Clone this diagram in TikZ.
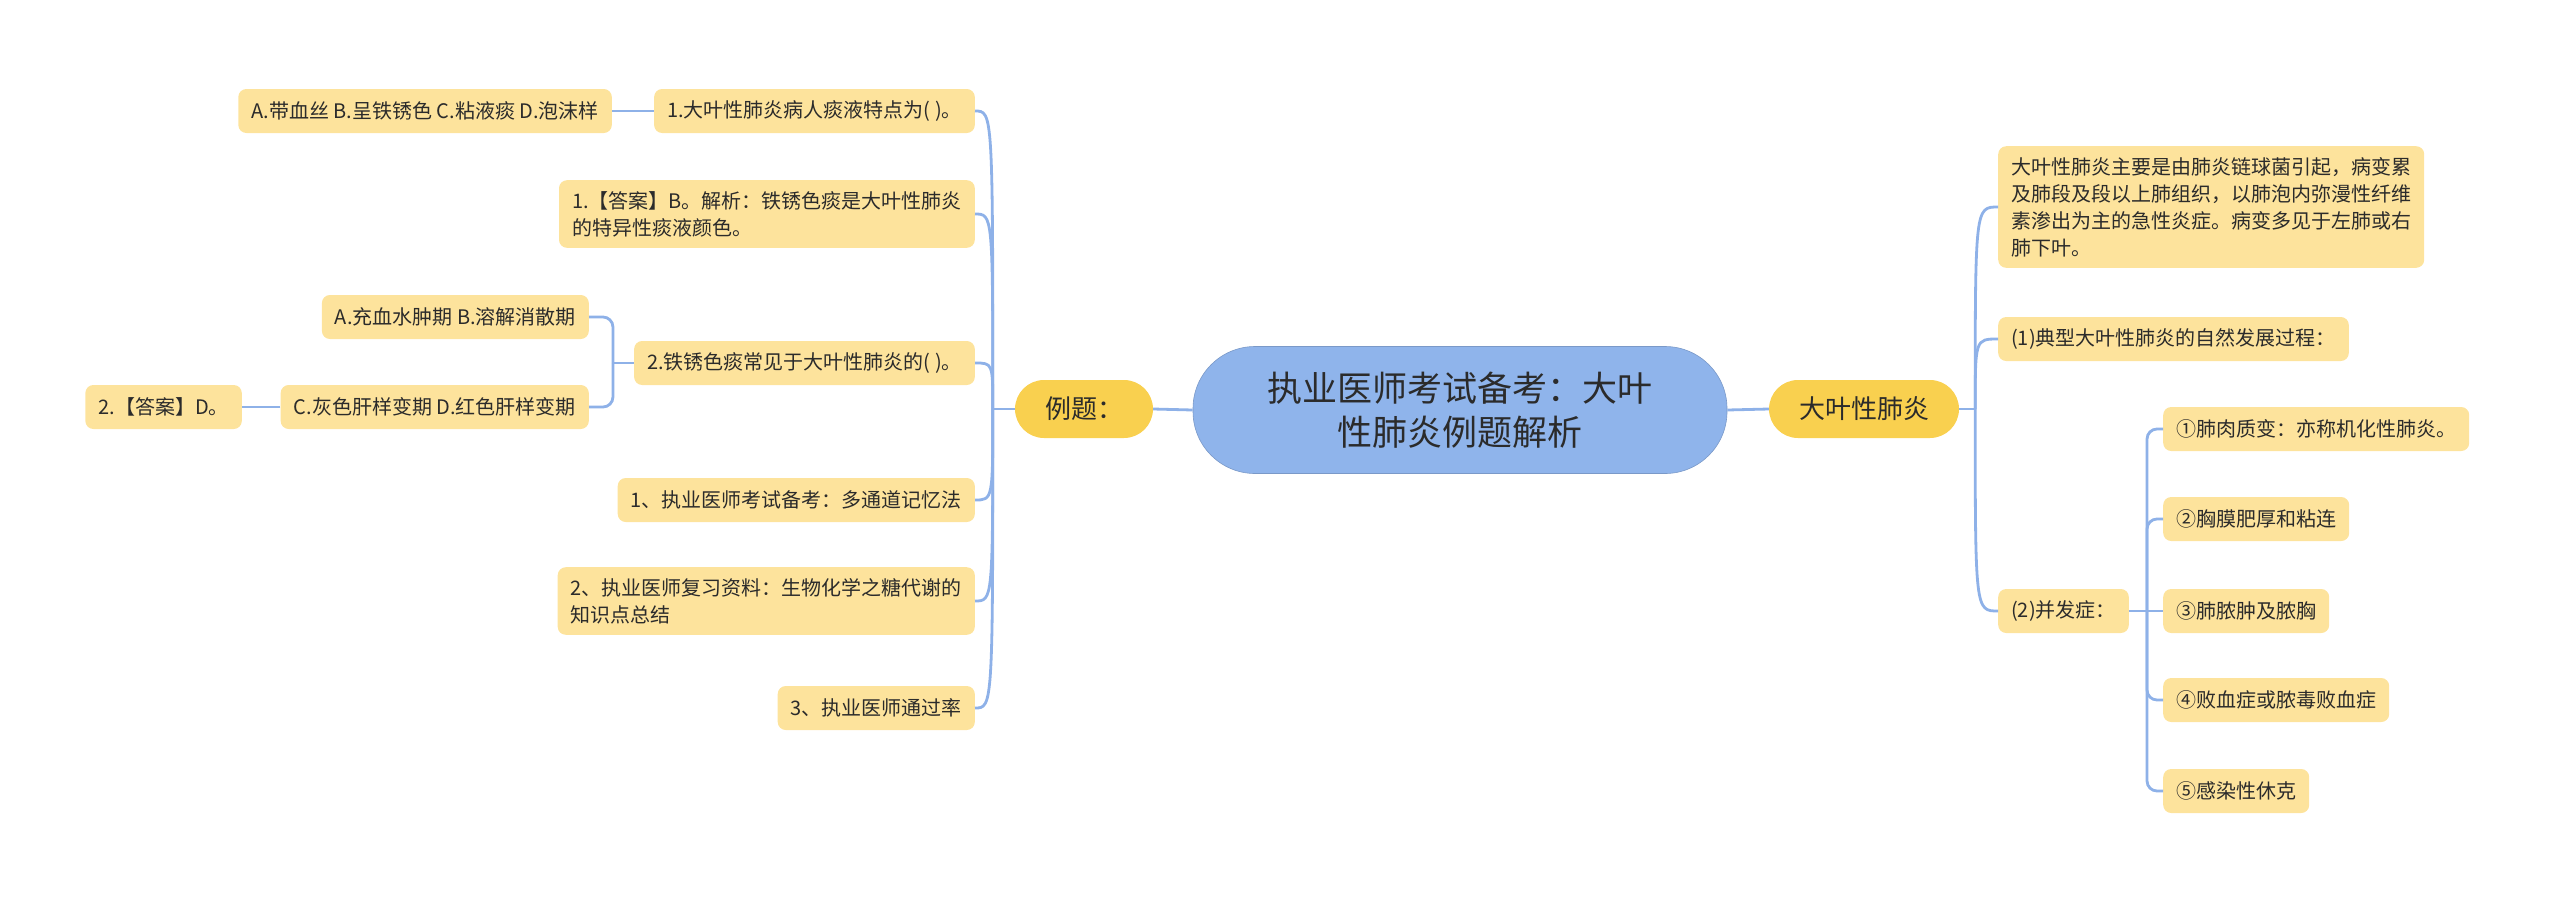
\documentclass[tikz,border=0pt]{standalone}
\usepackage{fontspec}
\setmainfont{Noto Sans CJK SC}
\usetikzlibrary{calc}
\definecolor{lineblue}{HTML}{8EB1E8}
\definecolor{boxy}{HTML}{FDE39C}
\definecolor{lvlone}{HTML}{F9D04F}
\definecolor{rootc}{HTML}{8FB4EB}
\definecolor{txt}{HTML}{2B2B2B}
\begin{document}
\begin{tikzpicture}[x=1pt,y=-1pt,
  leaf/.style={fill=boxy, rounded corners=8pt, inner xsep=13pt, inner ysep=11pt,
    minimum height=44pt, text=txt, font=\fontsize{20}{27}\selectfont, align=left},
  topic/.style={fill=lvlone, rounded corners=29pt, inner xsep=30pt, inner ysep=0pt,
    minimum height=58pt, text=txt, font=\fontsize{26}{32}\selectfont},
  rootnode/.style={fill=rootc, draw=rootc!85!black, line width=0.6pt, rounded corners=62pt,
    minimum width=534pt, minimum height=127pt, text=txt, align=center,
    font=\fontsize{35}{44}\selectfont},
  conn/.style={draw=lineblue, line width=2.8pt},
  brk/.style={conn, rounded corners=10pt}
]
\useasboundingbox (0,0) rectangle (2560,903);

% root and topics
\node[rootnode] (root) at (1460,410) {执业医师考试备考：大叶\\性肺炎例题解析};
\node[topic] (ex) at (1084,409) {例题：};
\node[topic] (lobar) at (1864,409) {大叶性肺炎};

% left side
\node[leaf, anchor=east] (q1) at (975,111) {1.大叶性肺炎病人痰液特点为( )。};
\node[leaf, anchor=east] (a1) at (612,111) {A.带血丝 B.呈铁锈色 C.粘液痰 D.泡沫样};
\node[leaf, anchor=east] (ans1) at (975,214) {1.【答案】B。解析：铁锈色痰是大叶性肺炎\\的特异性痰液颜色。};
\node[leaf, anchor=east] (q2) at (975,363) {2.铁锈色痰常见于大叶性肺炎的( )。};
\node[leaf, anchor=east] (a2) at (589,317) {A.充血水肿期 B.溶解消散期};
\node[leaf, anchor=east] (c2) at (589,407) {C.灰色肝样变期 D.红色肝样变期};
\node[leaf, anchor=east] (ans2) at (242,407) {2.【答案】D。};
\node[leaf, anchor=east] (r1) at (975,500) {1、执业医师考试备考：多通道记忆法};
\node[leaf, anchor=east] (r2) at (975,601) {2、执业医师复习资料：生物化学之糖代谢的\\知识点总结};
\node[leaf, anchor=east] (r3) at (975,708) {3、执业医师通过率};

% right side
\node[leaf, anchor=west] (desc) at (1998,207) {大叶性肺炎主要是由肺炎链球菌引起，病变累\\及肺段及段以上肺组织，以肺泡内弥漫性纤维\\素渗出为主的急性炎症。病变多见于左肺或右\\肺下叶。};
\node[leaf, anchor=west] (p1) at (1998,339) {(1)典型大叶性肺炎的自然发展过程：};
\node[leaf, anchor=west] (comp) at (1998,611) {(2)并发症：};
\node[leaf, anchor=west] (s1) at (2163,429) {①肺肉质变：亦称机化性肺炎。};
\node[leaf, anchor=west] (s2) at (2163,519) {②胸膜肥厚和粘连};
\node[leaf, anchor=west] (s3) at (2163,611) {③肺脓肿及脓胸};
\node[leaf, anchor=west] (s4) at (2163,700) {④败血症或脓毒败血症};
\node[leaf, anchor=west] (s5) at (2163,791) {⑤感染性休克};

% connectors root
\draw[conn] (root.west) -- (ex.east);
\draw[conn] (root.east) -- (lobar.west);

% left curves
\coordinate (jl) at ($(ex.west)+(-22,0)$);
\draw[conn] (ex.west) -- (jl);
\foreach \n in {q1,ans1,q2,r1,r2,r3}{
  \draw[conn] (jl) .. controls (jl |- \n.east) .. (\n.east);
}
% right curves
\coordinate (jr) at ($(lobar.east)+(16,0)$);
\draw[conn] (lobar.east) -- (jr);
\foreach \n in {desc,p1,comp}{
  \draw[conn] (jr) .. controls (jr |- \n.west) .. (\n.west);
}

% single children
\draw[conn] (q1.west) -- (a1.east);
\draw[conn] (c2.west) -- (ans2.east);

% bracket q2
\coordinate (bq) at ($(q2.west)+(-21,0)$);
\draw[conn] (q2.west) -- (bq);
\draw[brk] (bq) |- (a2.east);
\draw[brk] (bq) |- (c2.east);

% bracket comp
\coordinate (bc) at ($(comp.east)+(18,0)$);
\draw[conn] (comp.east) -- (bc);
\foreach \n in {s1,s2,s4,s5}{
  \draw[brk] (bc) |- (\n.west);
}
\draw[conn] (bc) -- (s3.west);
\end{tikzpicture}
\end{document}
